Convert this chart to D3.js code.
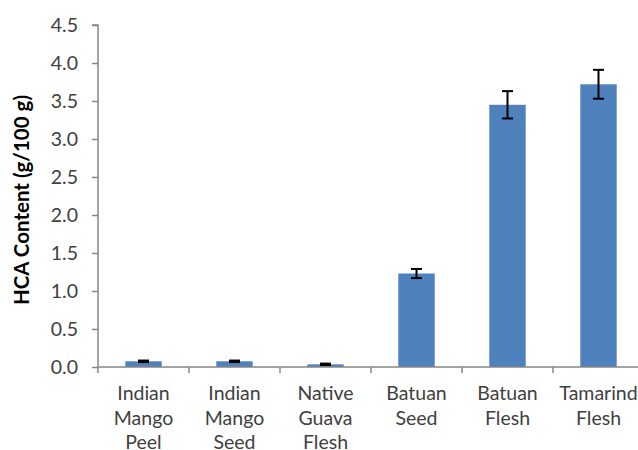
<!DOCTYPE html>
<html>
<head>
<meta charset="utf-8">
<script src="https://cdn.jsdelivr.net/npm/d3@7"></script>
<style>
  body { margin: 0; background: #fff; }
  text { font-family: Lato, "Open Sans", sans-serif; fill: #404040; }
</style>
</head>
<body>
<div id="chart"></div>
<script>
var categories = [
  ["Indian", "Mango", "Peel"],
  ["Indian", "Mango", "Seed"],
  ["Native", "Guava", "Flesh"],
  ["Batuan", "Seed"],
  ["Batuan", "Flesh"],
  ["Tamarind", "Flesh"]
];
var values = [0.075, 0.075, 0.035, 1.23, 3.45, 3.72];
var errors = [0.01, 0.01, 0.01, 0.06, 0.18, 0.19];
var yTicks = [0, 0.5, 1, 1.5, 2, 2.5, 3, 3.5, 4, 4.5];

var width = 638, height = 450;
var margin = {left: 98, top: 25, right: 0, bottom: 83};

var svg = d3.select("#chart").append("svg")
  .attr("width", width).attr("height", height);

var x = d3.scaleBand()
  .domain(d3.range(categories.length))
  .range([margin.left, margin.left + 91 * categories.length])
  .paddingInner(0.6).paddingOuter(0.3);

var y = d3.scaleLinear().domain([0, 4.5])
  .range([height - margin.bottom, margin.top]);

var axisColor = "#868686";

// y axis
var yAxis = svg.append("g")
  .attr("transform", "translate(" + margin.left + ",0)")
  .call(d3.axisLeft(y).tickValues(yTicks).tickSize(6).tickPadding(14)
    .tickFormat(d3.format(".1f")));
yAxis.selectAll("line").attr("stroke", axisColor).attr("stroke-width", 1.5);
yAxis.select(".domain").attr("stroke", axisColor).attr("stroke-width", 1.5)
  .attr("d", "M-6," + y(4.5) + "H0V" + y(0));
yAxis.selectAll("text").style("font-size", "19.5px").attr("fill", "#404040");

// bars
svg.selectAll("rect.bar").data(values).enter()
  .append("rect").attr("class", "bar")
  .attr("x", (d, i) => x(i))
  .attr("width", x.bandwidth())
  .attr("y", d => y(d))
  .attr("height", d => y(0) - y(d))
  .attr("fill", "#4F81BD");

// error bars
var eb = svg.selectAll("g.err").data(values).enter().append("g").attr("class", "err");
eb.append("line")
  .attr("x1", (d, i) => x(i) + x.bandwidth() / 2)
  .attr("x2", (d, i) => x(i) + x.bandwidth() / 2)
  .attr("y1", (d, i) => y(d + errors[i]))
  .attr("y2", (d, i) => y(d - errors[i]));
eb.append("line")
  .attr("x1", (d, i) => x(i) + x.bandwidth() / 2 - 5.5)
  .attr("x2", (d, i) => x(i) + x.bandwidth() / 2 + 5.5)
  .attr("y1", (d, i) => y(d + errors[i]))
  .attr("y2", (d, i) => y(d + errors[i]));
eb.append("line")
  .attr("x1", (d, i) => x(i) + x.bandwidth() / 2 - 5.5)
  .attr("x2", (d, i) => x(i) + x.bandwidth() / 2 + 5.5)
  .attr("y1", (d, i) => y(d - errors[i]))
  .attr("y2", (d, i) => y(d - errors[i]));
eb.selectAll("line").attr("stroke", "#000").attr("stroke-width", 2);

// x axis
var xg = svg.append("g");
xg.append("line")
  .attr("x1", margin.left).attr("x2", width)
  .attr("y1", y(0)).attr("y2", y(0))
  .attr("stroke", axisColor).attr("stroke-width", 1.5);
xg.selectAll("line.tick").data(d3.range(categories.length)).enter()
  .append("line").attr("class", "tick")
  .attr("x1", i => margin.left + 91 * i).attr("x2", i => margin.left + 91 * i)
  .attr("y1", y(0)).attr("y2", y(0) + 6)
  .attr("stroke", axisColor).attr("stroke-width", 1.5);

var labels = xg.selectAll("text").data(categories).enter()
  .append("text")
  .attr("text-anchor", "middle")
  .style("font-size", "19.5px")
  .attr("transform", (d, i) => "translate(" + (x(i) + x.bandwidth() / 2) + "," + (y(0) + 33) + ")");
labels.selectAll("tspan").data(d => d).enter()
  .append("tspan")
  .attr("x", 0)
  .attr("y", (d, j) => j * 24.5)
  .text(d => d);

// y title
svg.append("text")
  .attr("transform", "translate(29,200) rotate(-90)")
  .attr("text-anchor", "middle")
  .style("font-size", "20.5px")
  .style("font-weight", "bold")
  .style("fill", "#000")
  .text("HCA Content (g/100 g)");
</script>
</body>
</html>
